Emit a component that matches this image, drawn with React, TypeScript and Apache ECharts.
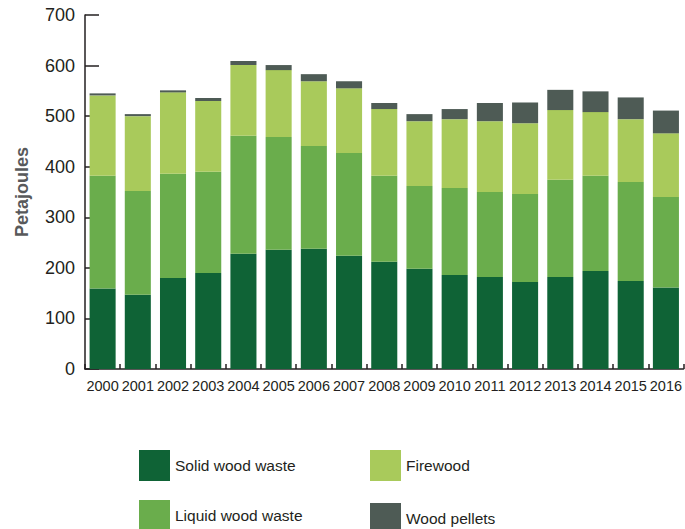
import React, { useEffect, useRef } from "react";
import * as echarts from "echarts";

const years = ["2000","2001","2002","2003","2004","2005","2006","2007","2008","2009","2010","2011","2012","2013","2014","2015","2016"];
const solidWoodWaste = [159, 147, 180, 190, 228, 236, 238, 224, 212, 198, 186, 182, 172, 182, 194, 174, 161];
const liquidWoodWaste = [223, 205, 206, 200, 233, 223, 203, 203, 170, 164, 172, 168, 174, 192, 188, 196, 179];
const firewood = [159, 148, 161, 140, 140, 132, 128, 128, 132, 128, 136, 140, 140, 138, 126, 124, 126];
const woodPellets = [4, 4, 4, 6, 8, 10, 14, 14, 12, 14, 20, 36, 41, 40, 41, 43, 45];
const seriesNames = ["Solid wood waste", "Liquid wood waste", "Firewood", "Wood pellets"];

const SANS = "'Liberation Sans', Arial, sans-serif";

export default function App() {
  const ref = useRef<HTMLDivElement>(null);
  useEffect(() => {
    if (!ref.current) return;
    const chart = echarts.init(ref.current, undefined, { renderer: "svg" });
    const mk = (name: string, data: number[], color: string) => ({
      name,
      type: "bar",
      stack: "total",
      data,
      barCategoryGap: "26%",
      itemStyle: { color },
    });
    const legendPos = [
      { left: 139, top: 450 },
      { left: 139, top: 500 },
      { left: 370, top: 450 },
      { left: 370, top: 503 },
    ];
    chart.setOption({
      animation: false,
      grid: { left: 85, right: 0, top: 15, bottom: 160 },
      legend: seriesNames.map((n, i) => ({
        data: [n],
        left: legendPos[i].left,
        top: legendPos[i].top,
        padding: 0,
        itemWidth: 31,
        itemHeight: 31,
        itemGap: 9,
        icon: "rect",
        selectedMode: false,
        textStyle: { fontFamily: SANS, fontSize: 15.5, color: "#231f20" },
      })),
      xAxis: {
        type: "category",
        data: years,
        axisLine: { show: true, lineStyle: { color: "#231f20", width: 1.5 } },
        axisTick: { show: true, inside: true, length: 5, lineStyle: { color: "#231f20", width: 1.5 } },
        axisLabel: { interval: 0, fontFamily: SANS, fontSize: 14.5, color: "#231f20", margin: 9 },
      },
      yAxis: {
        type: "value",
        min: 0,
        max: 700,
        interval: 100,
        name: "Petajoules",
        nameLocation: "middle",
        nameRotate: 90,
        nameGap: 54,
        nameTextStyle: { fontFamily: SANS, fontSize: 18, fontWeight: "bold", color: "#58595b" },
        axisLine: { show: true, lineStyle: { color: "#231f20", width: 1.5 } },
        axisTick: { show: true, inside: true, length: 14, lineStyle: { color: "#231f20", width: 1.5 } },
        splitLine: { show: false },
        axisLabel: { fontFamily: SANS, fontSize: 18, color: "#231f20", margin: 10 },
      },
      series: [
        mk(seriesNames[0], solidWoodWaste, "#0f6336"),
        mk(seriesNames[1], liquidWoodWaste, "#6aad4c"),
        mk(seriesNames[2], firewood, "#a9ca5b"),
        mk(seriesNames[3], woodPellets, "#4e5b55"),
      ],
    });
    return () => chart.dispose();
  }, []);
  return (
    <div
      ref={ref}
      style={{ position: "fixed", left: 0, top: 0, width: 685, height: 529, background: "#fff" }}
    />
  );
}
